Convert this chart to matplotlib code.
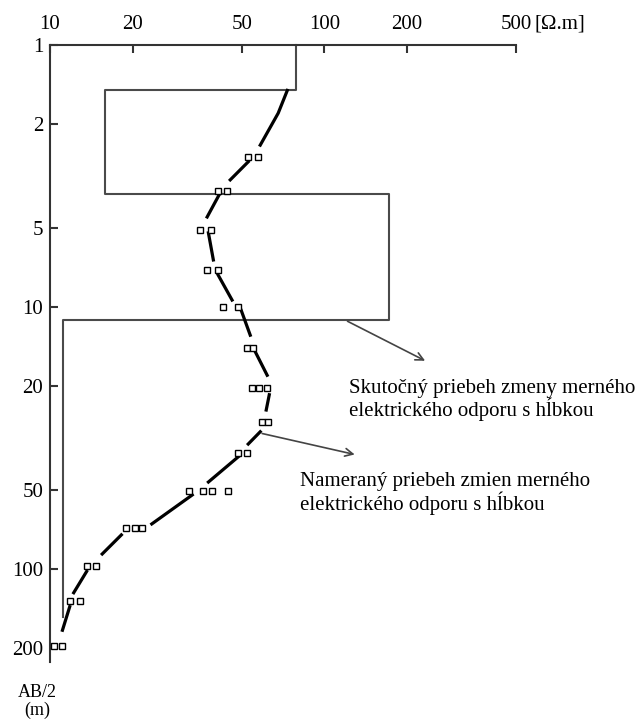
import matplotlib
matplotlib.use("Agg")
import matplotlib.pyplot as plt
import numpy as np
from matplotlib.ticker import FixedLocator, FixedFormatter, NullLocator

plt.rcParams['font.family'] = ['Liberation Serif', 'DejaVu Serif']

# true resistivity model (layers)
layer_rho = [79, 15.9, 172.6, 11.15]
layer_top = [1, 1.485, 3.69, 11.2]
layer_bottom = [1.485, 3.69, 11.2, 152]

# measured apparent resistivity curve (NaN = gap in the drawn line)
curve_depth = [1.49, 1.82, 2.41, np.nan, 2.79, 3.27, np.nan, 3.67, 4.53, np.nan,
               5.21, 6.61, np.nan, 7.54, 9.4, np.nan, 10.3, 12.8, np.nan,
               14.8, 18.2, np.nan, 21.6, 24.7, np.nan, 29.9, 33.3, np.nan,
               37.3, 46.5, np.nan, 52.1, 67.2, np.nan, 74, 87.5, np.nan,
               102, 123, np.nan, 139, 171]
curve_rho = [73.3, 67.9, 58.4, np.nan, 52.8, 45.4, np.nan, 41.7, 37.4, np.nan,
             37.8, 39.4, np.nan, 41.0, 46.1, np.nan, 49.8, 53.7, np.nan,
             56.0, 61.9, np.nan, 63.0, 61.4, np.nan, 58.4, 52.8, np.nan,
             48.5, 37.8, np.nan, 33.0, 23.5, np.nan, 18.2, 15.5, np.nan,
             13.6, 12.2, np.nan, 11.8, 11.1]

# measured points
sq_depth = [2.67, 2.67, 3.6, 3.6, 5.08, 5.08, 7.22, 7.22, 10.0, 10.0,
            14.3, 14.3, 20.4, 20.4, 20.4, 27.4, 27.4, 36.0, 36.0,
            50.3, 50.3, 50.3, 50.3, 69.6, 69.6, 69.6, 97.2, 97.2,
            132, 132, 196, 196]
sq_rho = [52.8, 57.4, 41.0, 44.3, 35.2, 38.7, 37.4, 41.0, 42.8, 48.5,
          52.3, 55.1, 54.6, 57.9, 62.0, 59.4, 62.5, 48.5, 52.3,
          32.1, 36.2, 39.0, 44.6, 18.9, 20.4, 21.7, 13.6, 14.7,
          11.8, 12.9, 10.3, 11.1]

x_ticks = [10, 20, 50, 100, 200, 500]
x_labels = ['10', '20', '50', '100', '200', '500']
y_ticks = [1, 2, 5, 10, 20, 50, 100, 200]
y_labels = ['1', '2', '5', '10', '20', '50', '100', '200']

fig = plt.figure(figsize=(6.42, 7.19), dpi=100)
ax = fig.add_axes([0.0779, 0.0793, 0.7259, 0.8581])
ax.set_xscale('log')
ax.set_yscale('log')
ax.set_xlim(10, 500)
ax.set_ylim(226, 1)

# layer model as a step line
step_x = np.repeat(layer_rho, 2)
step_y = np.ravel(np.column_stack((layer_top, layer_bottom)))
ax.plot(step_x, step_y, color='#4a4a4a', lw=1.5, clip_on=False, zorder=2)

ax.plot(curve_rho, curve_depth, color='black', lw=2.3, zorder=3)
ax.plot(sq_rho, sq_depth, ls='none', marker='s', ms=5, mfc='white',
        mec='black', mew=1.0, zorder=4)

for side in ['right', 'bottom']:
    ax.spines[side].set_visible(False)
for side in ['top', 'left']:
    ax.spines[side].set_color('#333333')
    ax.spines[side].set_linewidth(1.5)

ax.xaxis.set_ticks_position('top')
ax.xaxis.set_label_position('top')
ax.xaxis.set_major_locator(FixedLocator(x_ticks))
ax.xaxis.set_major_formatter(FixedFormatter(x_labels))
ax.xaxis.set_minor_locator(NullLocator())
ax.yaxis.set_major_locator(FixedLocator(y_ticks))
ax.yaxis.set_major_formatter(FixedFormatter(y_labels))
ax.yaxis.set_minor_locator(NullLocator())
ax.tick_params(axis='x', direction='in', length=6, width=1.5, color='#333333',
               labelsize=15, pad=8)
ax.tick_params(axis='y', direction='in', length=6, width=1.5, color='#333333',
               labelsize=15, pad=5)

ax.annotate('[Ω.m]', xy=(500, 1), xytext=(13, 8), textcoords='offset points',
            ha='left', va='bottom', fontsize=15, annotation_clip=False)

ax.text(-0.028, -0.036, 'AB/2\n(m)', transform=ax.transAxes, ha='center',
        va='top', fontsize=13, linespacing=1.0)

arrow = dict(arrowstyle='->', color='#444444', lw=1.2, mutation_scale=14)
ax.annotate('', xy=(238, 16.2), xytext=(119, 11.2), arrowprops=arrow,
            annotation_clip=False)
ax.annotate('', xy=(132, 36.7), xytext=(58, 30.2), arrowprops=arrow,
            annotation_clip=False)

ax.text(123, 18.8, 'Skutočný priebeh zmeny merného\nelektrického odporu s hĺbkou',
        ha='left', va='top', fontsize=15, linespacing=1.0, clip_on=False)
ax.text(81.6, 42.6, 'Nameraný priebeh zmien merného\nelektrického odporu s hĺbkou',
        ha='left', va='top', fontsize=15, linespacing=1.0, clip_on=False)

fig.savefig('out.png', dpi=100)
